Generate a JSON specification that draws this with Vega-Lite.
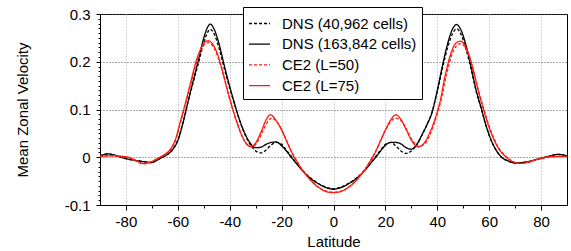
{
"$schema":"https://vega.github.io/schema/vega-lite/v6.json",
"width":467,"height":191,
"autosize":{"type":"none"},
"padding":{"left":100,"top":14,"right":4,"bottom":46},
"config":{"view":{"stroke":"#000","strokeWidth":1},"font":"Liberation Sans",
"axis":{"labelFont":"Liberation Sans","titleFont":"Liberation Sans","labelFontSize":15,"titleFontSize":15,"titleFontWeight":"normal","labelColor":"#000","titleColor":"#000","domainColor":"#000","tickColor":"#000","tickWidth":1,"domainWidth":1}},
"data":{"values":[
{"s":"B","lat":-90,"v":0.003},{"s":"B","lat":-87,"v":0.007},{"s":"B","lat":-84,"v":0.004},{"s":"B","lat":-80,"v":-0.003},{"s":"B","lat":-76,"v":-0.007},{"s":"B","lat":-72,"v":-0.010},{"s":"B","lat":-70,"v":-0.011},{"s":"B","lat":-68,"v":-0.006},{"s":"B","lat":-66,"v":0.000},{"s":"B","lat":-64,"v":0.006},{"s":"B","lat":-62,"v":0.016},{"s":"B","lat":-60,"v":0.035},{"s":"B","lat":-58,"v":0.072},{"s":"B","lat":-56,"v":0.118},{"s":"B","lat":-54,"v":0.162},{"s":"B","lat":-52,"v":0.205},{"s":"B","lat":-50,"v":0.250},{"s":"B","lat":-48,"v":0.277},{"s":"B","lat":-47.5,"v":0.279},{"s":"B","lat":-46,"v":0.268},{"s":"B","lat":-44,"v":0.235},{"s":"B","lat":-42,"v":0.190},{"s":"B","lat":-40,"v":0.148},{"s":"B","lat":-38,"v":0.110},{"s":"B","lat":-36,"v":0.075},{"s":"B","lat":-34,"v":0.048},{"s":"B","lat":-32,"v":0.029},{"s":"B","lat":-30,"v":0.020},{"s":"B","lat":-28,"v":0.021},{"s":"B","lat":-26,"v":0.027},{"s":"B","lat":-24,"v":0.031},{"s":"B","lat":-22,"v":0.032},{"s":"B","lat":-20,"v":0.024},{"s":"B","lat":-18,"v":0.012},{"s":"B","lat":-16,"v":-0.002},{"s":"B","lat":-14,"v":-0.015},{"s":"B","lat":-12,"v":-0.028},{"s":"B","lat":-10,"v":-0.039},{"s":"B","lat":-8,"v":-0.048},{"s":"B","lat":-6,"v":-0.055},{"s":"B","lat":-4,"v":-0.061},{"s":"B","lat":-2,"v":-0.065},{"s":"B","lat":0,"v":-0.067},{"s":"B","lat":2,"v":-0.065},{"s":"B","lat":4,"v":-0.061},{"s":"B","lat":6,"v":-0.055},{"s":"B","lat":8,"v":-0.048},{"s":"B","lat":10,"v":-0.039},{"s":"B","lat":12,"v":-0.028},{"s":"B","lat":14,"v":-0.015},{"s":"B","lat":16,"v":-0.002},{"s":"B","lat":18,"v":0.012},{"s":"B","lat":20,"v":0.025},{"s":"B","lat":22,"v":0.031},{"s":"B","lat":24,"v":0.031},{"s":"B","lat":26,"v":0.028},{"s":"B","lat":28,"v":0.020},{"s":"B","lat":30,"v":0.017},{"s":"B","lat":32,"v":0.026},{"s":"B","lat":34,"v":0.046},{"s":"B","lat":36,"v":0.068},{"s":"B","lat":38,"v":0.094},{"s":"B","lat":40,"v":0.140},{"s":"B","lat":42,"v":0.192},{"s":"B","lat":44,"v":0.238},{"s":"B","lat":46,"v":0.270},{"s":"B","lat":47.5,"v":0.278},{"s":"B","lat":49,"v":0.268},{"s":"B","lat":51,"v":0.236},{"s":"B","lat":53,"v":0.190},{"s":"B","lat":55,"v":0.140},{"s":"B","lat":57,"v":0.102},{"s":"B","lat":59,"v":0.063},{"s":"B","lat":61,"v":0.033},{"s":"B","lat":63,"v":0.012},{"s":"B","lat":65,"v":-0.001},{"s":"B","lat":67,"v":-0.007},{"s":"B","lat":70,"v":-0.012},{"s":"B","lat":73,"v":-0.011},{"s":"B","lat":76,"v":-0.008},{"s":"B","lat":80,"v":-0.002},{"s":"B","lat":83,"v":0.002},{"s":"B","lat":86.5,"v":0.006},{"s":"B","lat":90,"v":0.003},
{"s":"A","lat":-90,"v":0.003},{"s":"A","lat":-87,"v":0.007},{"s":"A","lat":-84,"v":0.004},{"s":"A","lat":-80,"v":-0.003},{"s":"A","lat":-76,"v":-0.007},{"s":"A","lat":-72,"v":-0.010},{"s":"A","lat":-70,"v":-0.011},{"s":"A","lat":-68,"v":-0.006},{"s":"A","lat":-66,"v":0.000},{"s":"A","lat":-64,"v":0.006},{"s":"A","lat":-62,"v":0.016},{"s":"A","lat":-60,"v":0.036},{"s":"A","lat":-58,"v":0.073},{"s":"A","lat":-56,"v":0.117},{"s":"A","lat":-54,"v":0.158},{"s":"A","lat":-52,"v":0.198},{"s":"A","lat":-50,"v":0.240},{"s":"A","lat":-48,"v":0.266},{"s":"A","lat":-47.5,"v":0.268},{"s":"A","lat":-46,"v":0.258},{"s":"A","lat":-44,"v":0.226},{"s":"A","lat":-42,"v":0.184},{"s":"A","lat":-40,"v":0.145},{"s":"A","lat":-38,"v":0.108},{"s":"A","lat":-36,"v":0.074},{"s":"A","lat":-34,"v":0.046},{"s":"A","lat":-32,"v":0.026},{"s":"A","lat":-30,"v":0.013},{"s":"A","lat":-28,"v":0.009},{"s":"A","lat":-26,"v":0.015},{"s":"A","lat":-24,"v":0.026},{"s":"A","lat":-22,"v":0.031},{"s":"A","lat":-20,"v":0.027},{"s":"A","lat":-18,"v":0.014},{"s":"A","lat":-16,"v":0.000},{"s":"A","lat":-14,"v":-0.014},{"s":"A","lat":-12,"v":-0.027},{"s":"A","lat":-10,"v":-0.038},{"s":"A","lat":-8,"v":-0.047},{"s":"A","lat":-6,"v":-0.054},{"s":"A","lat":-4,"v":-0.060},{"s":"A","lat":-2,"v":-0.064},{"s":"A","lat":0,"v":-0.066},{"s":"A","lat":2,"v":-0.064},{"s":"A","lat":4,"v":-0.060},{"s":"A","lat":6,"v":-0.054},{"s":"A","lat":8,"v":-0.047},{"s":"A","lat":10,"v":-0.038},{"s":"A","lat":12,"v":-0.027},{"s":"A","lat":14,"v":-0.014},{"s":"A","lat":16,"v":0.000},{"s":"A","lat":18,"v":0.014},{"s":"A","lat":20,"v":0.027},{"s":"A","lat":22,"v":0.031},{"s":"A","lat":24,"v":0.024},{"s":"A","lat":26,"v":0.013},{"s":"A","lat":28,"v":0.008},{"s":"A","lat":30,"v":0.013},{"s":"A","lat":32,"v":0.026},{"s":"A","lat":34,"v":0.045},{"s":"A","lat":36,"v":0.068},{"s":"A","lat":38,"v":0.095},{"s":"A","lat":40,"v":0.138},{"s":"A","lat":42,"v":0.186},{"s":"A","lat":44,"v":0.230},{"s":"A","lat":46,"v":0.260},{"s":"A","lat":47.5,"v":0.269},{"s":"A","lat":49,"v":0.259},{"s":"A","lat":51,"v":0.228},{"s":"A","lat":53,"v":0.185},{"s":"A","lat":55,"v":0.138},{"s":"A","lat":57,"v":0.100},{"s":"A","lat":59,"v":0.062},{"s":"A","lat":61,"v":0.032},{"s":"A","lat":63,"v":0.012},{"s":"A","lat":65,"v":-0.001},{"s":"A","lat":67,"v":-0.007},{"s":"A","lat":70,"v":-0.012},{"s":"A","lat":73,"v":-0.011},{"s":"A","lat":76,"v":-0.008},{"s":"A","lat":80,"v":-0.002},{"s":"A","lat":83,"v":0.002},{"s":"A","lat":86.5,"v":0.006},{"s":"A","lat":90,"v":0.003},
{"s":"D","lat":-90,"v":0.002},{"s":"D","lat":-86,"v":0.003},{"s":"D","lat":-82,"v":0.002},{"s":"D","lat":-79,"v":0.000},{"s":"D","lat":-76,"v":-0.007},{"s":"D","lat":-73.5,"v":-0.013},{"s":"D","lat":-71,"v":-0.011},{"s":"D","lat":-69,"v":-0.006},{"s":"D","lat":-67,"v":0.000},{"s":"D","lat":-65,"v":0.006},{"s":"D","lat":-63,"v":0.016},{"s":"D","lat":-61,"v":0.036},{"s":"D","lat":-59,"v":0.075},{"s":"D","lat":-57,"v":0.115},{"s":"D","lat":-55,"v":0.158},{"s":"D","lat":-53,"v":0.200},{"s":"D","lat":-51,"v":0.229},{"s":"D","lat":-49.5,"v":0.242},{"s":"D","lat":-48.3,"v":0.244},{"s":"D","lat":-47,"v":0.240},{"s":"D","lat":-45,"v":0.220},{"s":"D","lat":-43,"v":0.185},{"s":"D","lat":-41,"v":0.143},{"s":"D","lat":-39,"v":0.104},{"s":"D","lat":-37,"v":0.070},{"s":"D","lat":-35,"v":0.042},{"s":"D","lat":-33,"v":0.025},{"s":"D","lat":-32,"v":0.022},{"s":"D","lat":-30,"v":0.030},{"s":"D","lat":-28,"v":0.052},{"s":"D","lat":-26,"v":0.078},{"s":"D","lat":-24.4,"v":0.089},{"s":"D","lat":-22,"v":0.076},{"s":"D","lat":-20,"v":0.057},{"s":"D","lat":-18,"v":0.033},{"s":"D","lat":-16,"v":0.009},{"s":"D","lat":-14,"v":-0.010},{"s":"D","lat":-12,"v":-0.027},{"s":"D","lat":-10,"v":-0.041},{"s":"D","lat":-8,"v":-0.053},{"s":"D","lat":-6,"v":-0.062},{"s":"D","lat":-4,"v":-0.069},{"s":"D","lat":-2,"v":-0.073},{"s":"D","lat":0,"v":-0.074},{"s":"D","lat":2,"v":-0.073},{"s":"D","lat":4,"v":-0.069},{"s":"D","lat":6,"v":-0.062},{"s":"D","lat":8,"v":-0.053},{"s":"D","lat":10,"v":-0.041},{"s":"D","lat":12,"v":-0.027},{"s":"D","lat":14,"v":-0.010},{"s":"D","lat":16,"v":0.009},{"s":"D","lat":18,"v":0.033},{"s":"D","lat":20,"v":0.057},{"s":"D","lat":22,"v":0.078},{"s":"D","lat":24.1,"v":0.089},{"s":"D","lat":26,"v":0.079},{"s":"D","lat":28,"v":0.058},{"s":"D","lat":30,"v":0.036},{"s":"D","lat":32.7,"v":0.022},{"s":"D","lat":35,"v":0.030},{"s":"D","lat":37,"v":0.050},{"s":"D","lat":39,"v":0.078},{"s":"D","lat":41,"v":0.115},{"s":"D","lat":43,"v":0.170},{"s":"D","lat":45,"v":0.213},{"s":"D","lat":47,"v":0.238},{"s":"D","lat":48.8,"v":0.243},{"s":"D","lat":50.5,"v":0.236},{"s":"D","lat":52,"v":0.218},{"s":"D","lat":54,"v":0.180},{"s":"D","lat":56,"v":0.135},{"s":"D","lat":58,"v":0.097},{"s":"D","lat":60,"v":0.062},{"s":"D","lat":62,"v":0.035},{"s":"D","lat":64,"v":0.015},{"s":"D","lat":66,"v":0.003},{"s":"D","lat":68,"v":-0.006},{"s":"D","lat":70,"v":-0.011},{"s":"D","lat":72,"v":-0.013},{"s":"D","lat":75,"v":-0.010},{"s":"D","lat":78,"v":-0.005},{"s":"D","lat":81,"v":-0.001},{"s":"D","lat":85,"v":0.002},{"s":"D","lat":90,"v":0.002},
{"s":"C","lat":-90,"v":0.002},{"s":"C","lat":-86,"v":0.003},{"s":"C","lat":-82,"v":0.002},{"s":"C","lat":-79,"v":-0.001},{"s":"C","lat":-76,"v":-0.008},{"s":"C","lat":-73.5,"v":-0.014},{"s":"C","lat":-71,"v":-0.012},{"s":"C","lat":-69,"v":-0.007},{"s":"C","lat":-67,"v":-0.001},{"s":"C","lat":-65,"v":0.005},{"s":"C","lat":-63,"v":0.014},{"s":"C","lat":-61,"v":0.034},{"s":"C","lat":-59,"v":0.072},{"s":"C","lat":-57,"v":0.112},{"s":"C","lat":-55,"v":0.154},{"s":"C","lat":-53,"v":0.195},{"s":"C","lat":-51,"v":0.225},{"s":"C","lat":-49.5,"v":0.238},{"s":"C","lat":-48.3,"v":0.240},{"s":"C","lat":-47,"v":0.236},{"s":"C","lat":-45,"v":0.217},{"s":"C","lat":-43,"v":0.183},{"s":"C","lat":-41,"v":0.142},{"s":"C","lat":-39,"v":0.103},{"s":"C","lat":-37,"v":0.069},{"s":"C","lat":-35,"v":0.041},{"s":"C","lat":-33,"v":0.025},{"s":"C","lat":-31,"v":0.023},{"s":"C","lat":-29,"v":0.035},{"s":"C","lat":-27,"v":0.058},{"s":"C","lat":-25,"v":0.077},{"s":"C","lat":-23.8,"v":0.082},{"s":"C","lat":-22,"v":0.075},{"s":"C","lat":-20,"v":0.058},{"s":"C","lat":-18,"v":0.034},{"s":"C","lat":-16,"v":0.010},{"s":"C","lat":-14,"v":-0.009},{"s":"C","lat":-12,"v":-0.026},{"s":"C","lat":-10,"v":-0.040},{"s":"C","lat":-8,"v":-0.052},{"s":"C","lat":-6,"v":-0.062},{"s":"C","lat":-4,"v":-0.069},{"s":"C","lat":-2,"v":-0.072},{"s":"C","lat":0,"v":-0.073},{"s":"C","lat":2,"v":-0.072},{"s":"C","lat":4,"v":-0.069},{"s":"C","lat":6,"v":-0.062},{"s":"C","lat":8,"v":-0.052},{"s":"C","lat":10,"v":-0.040},{"s":"C","lat":12,"v":-0.026},{"s":"C","lat":14,"v":-0.009},{"s":"C","lat":16,"v":0.010},{"s":"C","lat":18,"v":0.033},{"s":"C","lat":20,"v":0.056},{"s":"C","lat":22,"v":0.074},{"s":"C","lat":23.8,"v":0.082},{"s":"C","lat":26,"v":0.077},{"s":"C","lat":28,"v":0.060},{"s":"C","lat":30,"v":0.039},{"s":"C","lat":33,"v":0.023},{"s":"C","lat":35.5,"v":0.030},{"s":"C","lat":37.5,"v":0.052},{"s":"C","lat":39.5,"v":0.082},{"s":"C","lat":41.5,"v":0.120},{"s":"C","lat":43.5,"v":0.172},{"s":"C","lat":45.5,"v":0.213},{"s":"C","lat":47.5,"v":0.234},{"s":"C","lat":49,"v":0.238},{"s":"C","lat":50.5,"v":0.232},{"s":"C","lat":52,"v":0.215},{"s":"C","lat":54,"v":0.180},{"s":"C","lat":56,"v":0.137},{"s":"C","lat":58,"v":0.100},{"s":"C","lat":60,"v":0.065},{"s":"C","lat":62,"v":0.038},{"s":"C","lat":64,"v":0.017},{"s":"C","lat":66,"v":0.004},{"s":"C","lat":68,"v":-0.005},{"s":"C","lat":70,"v":-0.011},{"s":"C","lat":72,"v":-0.013},{"s":"C","lat":75,"v":-0.011},{"s":"C","lat":78,"v":-0.006},{"s":"C","lat":81,"v":-0.002},{"s":"C","lat":85,"v":0.001},{"s":"C","lat":90,"v":0.002}
]},
"layer":[
{"mark":{"type":"point","opacity":0},
 "encoding":{
  "x":{"field":"lat","type":"quantitative","scale":{"domain":[-90,90],"nice":false,"zero":false},
   "axis":{"orient":"bottom","values":[-70,-50,-30,-10,10,30,50,70],"labels":false,"tickSize":3,"grid":false,"domain":false,"title":null}},
  "y":{"field":"v","type":"quantitative","scale":{"domain":[-0.1,0.3],"nice":false,"zero":false},
   "axis":{"orient":"left","values":[-0.09,-0.08,-0.07,-0.06,-0.05,-0.04,-0.03,-0.02,-0.01,0.01,0.02,0.03,0.04,0.05,0.06,0.07,0.08,0.09,0.11,0.12,0.13,0.14,0.15,0.16,0.17,0.18,0.19,0.21,0.22,0.23,0.24,0.25,0.26,0.27,0.28,0.29],"labels":false,"tickSize":2,"grid":false,"domain":false,"title":null}}
 }},
{"mark":{"type":"line","interpolate":"monotone","strokeWidth":1.3},
 "encoding":{
  "x":{"field":"lat","type":"quantitative","scale":{"domain":[-90,90],"nice":false,"zero":false},
   "axis":{"orient":"bottom","values":[-80,-60,-40,-20,0,20,40,60,80],"tickSize":5,"labelPadding":4,"labelFlush":false,"grid":true,"gridColor":"#aaa","gridDash":[1,2],"labelExpr":"'' + datum.value","title":"Latitude","titleX":233.5,"titleY":41,"titleBaseline":"alphabetic","titleAnchor":"middle"}},
  "y":{"field":"v","type":"quantitative","scale":{"domain":[-0.1,0.3],"nice":false,"zero":false},
   "axis":{"orient":"left","values":[-0.1,0,0.1,0.2,0.3],"tickSize":4,"labelPadding":6,"labelFlush":false,"grid":true,"gridColor":"#555","gridDash":[1,2],"labelExpr":"'' + datum.value","title":"Mean Zonal Velocity","titleX":-73,"titleY":95.5,"titleBaseline":"alphabetic","titleAngle":270}},
  "color":{"field":"s","type":"nominal","scale":{"domain":["A","B","C","D"],"range":["#000000","#000000","#ff1a10","#ff1a10"]},
   "legend":{"orient":"none","legendX":143,"legendY":-7,"title":null,"fillColor":"#ffffff","strokeColor":"#000000","padding":5,"symbolType":"stroke","symbolSize":441,"symbolStrokeWidth":1.3,"labelFont":"Liberation Sans","labelFontSize":15,"labelColor":"#000","labelOffset":11,"rowPadding":0.7,"labelLimit":300,
    "labelExpr":"datum.label == 'A' ? 'DNS (40,962 cells)' : datum.label == 'B' ? 'DNS (163,842 cells)' : datum.label == 'C' ? 'CE2 (L=50)' : 'CE2 (L=75)'"}},
  "strokeDash":{"field":"s","type":"nominal","scale":{"domain":["A","B","C","D"],"range":[[3,2],[1,0],[3,2],[1,0]]},
   "legend":{"orient":"none","legendX":143,"legendY":-7,"title":null,"fillColor":"#ffffff","strokeColor":"#000000","padding":5,"symbolType":"stroke","symbolSize":441,"symbolStrokeWidth":1.3,"labelFont":"Liberation Sans","labelFontSize":15,"labelColor":"#000","labelOffset":11,"rowPadding":0.7,"labelLimit":300,
    "labelExpr":"datum.label == 'A' ? 'DNS (40,962 cells)' : datum.label == 'B' ? 'DNS (163,842 cells)' : datum.label == 'C' ? 'CE2 (L=50)' : 'CE2 (L=75)'"}}
 }}
],
"resolve":{"axis":{"x":"independent","y":"independent"}}
}
